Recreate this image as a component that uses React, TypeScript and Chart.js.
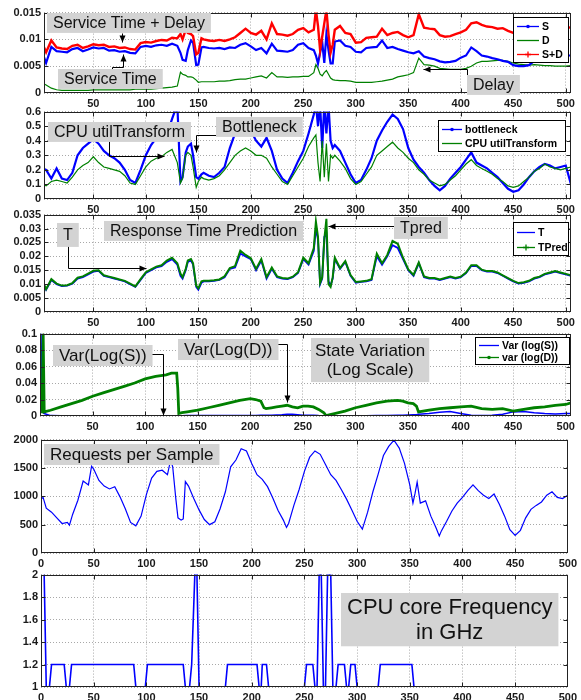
import React, { useEffect, useRef } from 'react';
import { Chart, registerables } from 'chart.js';

Chart.register(...registerables);

// ---------- DATA ----------
// sample index for panels 1-3
const X1 = [
  2, 5, 10, 15, 20, 25, 30, 35, 40, 45,
  50, 55, 60, 65, 70, 75, 80, 85, 90, 95,
  100, 105, 110, 115, 120, 125, 130, 133, 135, 138,
  140, 143, 145, 148, 150, 153, 155, 160, 165, 170,
  175, 180, 185, 190, 195, 200, 205, 210, 215, 220,
  225, 230, 235, 240, 245, 250, 255, 260, 262, 264,
  266, 268, 270, 272, 274, 276, 278, 280, 285, 290,
  295, 300, 305, 310, 315, 320, 325, 330, 335, 340,
  345, 350, 355, 360, 365, 370, 375, 380, 385, 390,
  395, 400, 405, 410, 415, 420, 425, 430, 435, 440,
  445, 450, 455, 460, 465, 470, 475, 480, 485, 490,
  495, 500, 505,
];

// Panel 1: service time S, delay D, S+D (seconds)
const S = [
  7.2e-3, 5.6e-3, 8.6e-3, 7.8e-3, 7.7e-3, 7.6e-3, 8.2e-3, 8.4e-3, 7.8e-3, 8.1e-3,
  8.5e-3, 8.3e-3, 8.4e-3, 7.9e-3, 8.0e-3, 7.7e-3, 7.8e-3, 7.5e-3, 7.4e-3, 8.6e-3,
  8.8e-3, 8.6e-3, 8.9e-3, 9.0e-3, 8.8e-3, 9.2e-3, 8.8e-3, 7.5e-3, 6.2e-3, 6.0e-3,
  8.0e-3, 9.8e-3, 9.4e-3, 5.2e-3, 5.3e-3, 8.5e-3, 8.6e-3, 8.4e-3, 8.3e-3, 8.4e-3,
  8.2e-3, 8.5e-3, 8.4e-3, 9.0e-3, 9.3e-3, 8.7e-3, 8.0e-3, 8.4e-3, 7.4e-3, 9.2e-3,
  7.9e-3, 7.8e-3, 7.7e-3, 8.0e-3, 9.0e-3, 9.3e-3, 8.4e-3, 8.0e-3, 7.0e-3, 5.5e-3,
  7.5e-3, 9.5e-3, 5.6e-3, 11.0e-3, 8.0e-3, 5.5e-3, 5.5e-3, 9.6e-3, 9.8e-3, 8.8e-3,
  8.6e-3, 7.7e-3, 7.6e-3, 8.4e-3, 8.5e-3, 8.6e-3, 9.8e-3, 8.4e-3, 8.6e-3, 8.2e-3,
  7.9e-3, 7.6e-3, 7.4e-3, 7.8e-3, 6.8e-3, 6.5e-3, 6.3e-3, 5.9e-3, 5.7e-3, 5.8e-3,
  6.0e-3, 6.6e-3, 7.0e-3, 8.5e-3, 7.8e-3, 7.0e-3, 6.8e-3, 6.5e-3, 6.3e-3, 6.0e-3,
  5.8e-3, 5.2e-3, 5.0e-3, 5.0e-3, 5.2e-3, 6.0e-3, 6.2e-3, 6.4e-3, 6.5e-3, 6.6e-3,
  6.8e-3, 7.0e-3, 7.0e-3,
];
const D = [
  1.8e-3, 1.5e-3, 0.9e-3, 0.6e-3, 0.5e-3, 0.5e-3, 0.5e-3, 0.5e-3, 0.5e-3, 0.5e-3,
  0.6e-3, 0.6e-3, 0.6e-3, 0.6e-3, 0.6e-3, 0.6e-3, 0.6e-3, 0.6e-3, 0.7e-3, 0.7e-3,
  0.7e-3, 0.7e-3, 0.8e-3, 0.9e-3, 1.0e-3, 1.1e-3, 1.3e-3, 3.9e-3, 3.5e-3, 3.3e-3,
  3.0e-3, 3.0e-3, 2.9e-3, 2.4e-3, 2.0e-3, 2.1e-3, 2.1e-3, 2.1e-3, 2.1e-3, 2.2e-3,
  2.2e-3, 2.3e-3, 2.5e-3, 2.6e-3, 2.6e-3, 2.8e-3, 3.0e-3, 3.2e-3, 2.8e-3, 3.8e-3,
  3.0e-3, 3.0e-3, 2.9e-3, 3.0e-3, 3.0e-3, 3.1e-3, 3.1e-3, 3.8e-3, 5.3e-3, 4.6e-3,
  3.5e-3, 3.2e-3, 3.8e-3, 4.2e-3, 3.5e-3, 2.8e-3, 2.5e-3, 2.4e-3, 2.3e-3, 2.3e-3,
  2.2e-3, 2.0e-3, 2.0e-3, 2.0e-3, 2.0e-3, 2.1e-3, 2.2e-3, 2.4e-3, 2.6e-3, 3.0e-3,
  3.2e-3, 3.4e-3, 3.8e-3, 6.5e-3, 5.3e-3, 5.2e-3, 5.0e-3, 4.6e-3, 4.5e-3, 4.4e-3,
  4.4e-3, 4.4e-3, 4.6e-3, 5.0e-3, 5.6e-3, 5.9e-3, 5.9e-3, 6.0e-3, 6.1e-3, 6.1e-3,
  5.9e-3, 5.6e-3, 5.4e-3, 5.3e-3, 5.2e-3, 5.3e-3, 5.2e-3, 5.1e-3, 5.1e-3, 5.0e-3,
  5.0e-3, 5.0e-3, 5.1e-3,
];
const SD = [
  9.0e-3, 7.6e-3, 9.8e-3, 8.5e-3, 8.3e-3, 8.2e-3, 8.8e-3, 9.0e-3, 8.4e-3, 8.7e-3,
  9.1e-3, 8.9e-3, 9.0e-3, 8.6e-3, 8.7e-3, 8.4e-3, 8.5e-3, 8.2e-3, 8.1e-3, 9.3e-3,
  9.5e-3, 9.4e-3, 9.7e-3, 9.9e-3, 9.8e-3, 10.3e-3, 10.2e-3, 11.0e-3, 10.0e-3, 11.8e-3,
  11.2e-3, 11.0e-3, 10.6e-3, 7.2e-3, 7.5e-3, 10.2e-3, 10.0e-3, 9.8e-3, 9.7e-3, 9.9e-3,
  9.7e-3, 10.0e-3, 10.4e-3, 11.2e-3, 12.0e-3, 11.2e-3, 10.9e-3, 11.6e-3, 10.0e-3, 13.0e-3,
  11.0e-3, 10.9e-3, 10.7e-3, 11.0e-3, 11.8e-3, 12.1e-3, 11.3e-3, 11.8e-3, 15.5e-3, 12.5e-3,
  8.0e-3, 10.5e-3, 13.0e-3, 15.5e-3, 11.0e-3, 7.5e-3, 9.0e-3, 11.8e-3, 12.5e-3, 11.2e-3,
  11.0e-3, 9.4e-3, 9.5e-3, 10.3e-3, 10.4e-3, 10.5e-3, 12.0e-3, 10.8e-3, 11.2e-3, 11.4e-3,
  10.8e-3, 10.4e-3, 10.8e-3, 14.7e-3, 12.2e-3, 12.0e-3, 11.9e-3, 10.8e-3, 10.5e-3, 10.6e-3,
  11.0e-3, 11.3e-3, 11.8e-3, 13.0e-3, 13.2e-3, 12.7e-3, 12.4e-3, 12.3e-3, 12.0e-3, 12.1e-3,
  11.6e-3, 11.2e-3, 10.9e-3, 10.8e-3, 10.8e-3, 11.0e-3, 11.4e-3, 11.6e-3, 11.4e-3, 11.5e-3,
  11.8e-3, 12.0e-3, 12.3e-3,
];

// Panel 2: bottleneck and CPU utilTransform
const BOTTLENECK = [
  0.21, 0.20, 0.14, 0.21, 0.14, 0.13, 0.18, 0.30, 0.35, 0.38,
  0.41, 0.38, 0.33, 0.30, 0.28, 0.25, 0.20, 0.13, 0.11, 0.20,
  0.30, 0.37, 0.42, 0.42, 0.44, 0.55, 0.65, 0.12, 0.15, 0.32,
  0.36, 0.38, 0.30, 0.15, 0.14, 0.17, 0.18, 0.16, 0.15, 0.18,
  0.22, 0.35, 0.45, 0.48, 0.49, 0.47, 0.40, 0.36, 0.42, 0.33,
  0.20, 0.14, 0.11, 0.18, 0.26, 0.33, 0.45, 0.58, 0.65, 0.50,
  0.65, 0.35, 0.65, 0.45, 0.65, 0.40, 0.35, 0.37, 0.33, 0.25,
  0.17, 0.11, 0.13, 0.20, 0.28, 0.40, 0.47, 0.53, 0.58, 0.55,
  0.48, 0.35, 0.27, 0.22, 0.18, 0.13, 0.09, 0.06, 0.09, 0.14,
  0.18, 0.22, 0.27, 0.32, 0.25, 0.23, 0.21, 0.18, 0.15, 0.11,
  0.07, 0.05, 0.06, 0.10, 0.15, 0.19, 0.22, 0.24, 0.23, 0.21,
  0.22, 0.23, 0.10,
];
const CPU_UTIL = [
  0.10, 0.09, 0.12, 0.13, 0.12, 0.11, 0.15, 0.20, 0.23, 0.25,
  0.29, 0.25, 0.22, 0.21, 0.20, 0.19, 0.16, 0.11, 0.10, 0.16,
  0.22, 0.26, 0.28, 0.29, 0.32, 0.34, 0.25, 0.11, 0.14, 0.30,
  0.32, 0.30, 0.22, 0.08, 0.12, 0.15, 0.14, 0.13, 0.14, 0.16,
  0.20, 0.25, 0.30, 0.33, 0.35, 0.33, 0.30, 0.30, 0.28, 0.22,
  0.17, 0.12, 0.10, 0.16, 0.22, 0.28, 0.36, 0.42, 0.44, 0.25,
  0.12, 0.40, 0.15, 0.38, 0.12, 0.30, 0.28, 0.30, 0.26, 0.21,
  0.14, 0.10, 0.12, 0.17, 0.22, 0.30, 0.33, 0.36, 0.39, 0.35,
  0.32, 0.28, 0.25, 0.20, 0.17, 0.13, 0.11, 0.09, 0.10, 0.13,
  0.16, 0.20, 0.24, 0.27, 0.23, 0.21, 0.19, 0.17, 0.14, 0.12,
  0.09, 0.08, 0.09, 0.12, 0.15, 0.19, 0.21, 0.24, 0.22, 0.21,
  0.20, 0.21, 0.22,
];

// Panel 3: response time T and its prediction TPred
const T = [
  10.5e-3, 8.0e-3, 11.5e-3, 10.0e-3, 9.3e-3, 9.5e-3, 10.2e-3, 12.0e-3, 12.5e-3, 13.5e-3,
  14.5e-3, 14.8e-3, 13.0e-3, 12.5e-3, 12.0e-3, 11.5e-3, 11.0e-3, 10.0e-3, 9.0e-3, 11.5e-3,
  14.0e-3, 15.0e-3, 16.0e-3, 16.5e-3, 18.0e-3, 19.0e-3, 17.0e-3, 13.0e-3, 12.0e-3, 15.0e-3,
  18.0e-3, 18.5e-3, 17.0e-3, 9.0e-3, 8.0e-3, 10.5e-3, 11.0e-3, 11.0e-3, 11.2e-3, 11.5e-3,
  12.5e-3, 15.5e-3, 16.0e-3, 21.0e-3, 20.0e-3, 19.0e-3, 15.0e-3, 18.5e-3, 12.0e-3, 15.5e-3,
  12.5e-3, 12.0e-3, 11.8e-3, 12.5e-3, 14.0e-3, 19.0e-3, 17.0e-3, 22.0e-3, 30.0e-3, 26.0e-3,
  10.0e-3, 12.0e-3, 27.0e-3, 28.0e-3, 11.0e-3, 9.5e-3, 12.0e-3, 19.0e-3, 15.5e-3, 18.0e-3,
  13.0e-3, 10.5e-3, 10.8e-3, 11.0e-3, 11.5e-3, 20.0e-3, 17.0e-3, 20.0e-3, 24.0e-3, 23.0e-3,
  19.0e-3, 15.0e-3, 13.0e-3, 17.5e-3, 12.5e-3, 12.0e-3, 12.0e-3, 11.5e-3, 12.0e-3, 12.5e-3,
  12.0e-3, 12.5e-3, 14.0e-3, 16.5e-3, 16.5e-3, 15.0e-3, 14.5e-3, 14.5e-3, 14.0e-3, 13.0e-3,
  12.0e-3, 11.0e-3, 10.2e-3, 10.5e-3, 11.0e-3, 12.0e-3, 12.5e-3, 13.5e-3, 14.0e-3, 14.5e-3,
  14.0e-3, 13.5e-3, 13.0e-3,
];
const TPRED = [
  10.8e-3, 8.2e-3, 11.8e-3, 10.2e-3, 9.5e-3, 9.6e-3, 10.4e-3, 12.3e-3, 12.8e-3, 13.8e-3,
  14.8e-3, 15.0e-3, 13.2e-3, 12.7e-3, 12.2e-3, 11.7e-3, 11.2e-3, 10.2e-3, 9.2e-3, 11.8e-3,
  14.3e-3, 15.3e-3, 16.3e-3, 16.8e-3, 18.5e-3, 19.5e-3, 17.5e-3, 13.8e-3, 12.5e-3, 15.5e-3,
  18.5e-3, 19.0e-3, 17.5e-3, 9.5e-3, 8.5e-3, 11.0e-3, 11.2e-3, 11.2e-3, 11.4e-3, 11.7e-3,
  12.8e-3, 15.8e-3, 16.5e-3, 22.0e-3, 20.5e-3, 19.3e-3, 15.5e-3, 19.0e-3, 12.5e-3, 16.0e-3,
  12.8e-3, 12.2e-3, 12.0e-3, 12.7e-3, 14.3e-3, 19.5e-3, 17.5e-3, 23.0e-3, 32.5e-3, 27.0e-3,
  10.5e-3, 12.5e-3, 26.0e-3, 33.5e-3, 10.0e-3, 9.0e-3, 12.5e-3, 19.5e-3, 15.8e-3, 18.3e-3,
  13.3e-3, 10.8e-3, 11.0e-3, 11.2e-3, 11.8e-3, 21.0e-3, 17.5e-3, 20.5e-3, 25.5e-3, 24.5e-3,
  19.5e-3, 15.3e-3, 13.3e-3, 17.8e-3, 12.8e-3, 12.2e-3, 12.2e-3, 11.7e-3, 12.2e-3, 12.7e-3,
  12.2e-3, 12.7e-3, 14.2e-3, 16.8e-3, 16.8e-3, 15.2e-3, 14.7e-3, 14.7e-3, 14.2e-3, 13.2e-3,
  12.2e-3, 11.2e-3, 10.4e-3, 10.7e-3, 11.2e-3, 12.2e-3, 12.7e-3, 13.7e-3, 14.2e-3, 14.7e-3,
  14.2e-3, 13.7e-3, 13.2e-3,
];

// Panel 4: state variation
const X4 = [
  1, 2, 3, 4, 10, 20, 30, 40, 50, 60,
  70, 80, 90, 100, 110, 120, 125, 130, 131, 132,
  135, 140, 150, 160, 170, 180, 190, 200, 205, 210,
  213, 215, 220, 225, 230, 235, 240, 245, 250, 255,
  260, 265, 270, 272, 280, 290, 300, 310, 320, 330,
  340, 345, 350, 355, 358, 360, 370, 380, 390, 400,
  410, 420, 430, 440, 450, 460, 470, 480, 490, 500,
  505,
];
const VAR_LOG_S = [
  0.1, 0.005, 0.004, 0.003, 0.0005, 0.0002, 0.0002, 0.0002, 0.0002, 0.0002,
  0.0002, 0.0002, 0.0002, 0.0002, 0.0002, 0.0002, 0.0002, 0.0002, 0.0002, 0.0002,
  0.0003, 0.0005, 0.0005, 0.0005, 0.0005, 0.0005, 0.0005, 0.0005, 0.0005, 0.0008,
  0.001, 0.001, 0.001, 0.0012, 0.0015, 0.002, 0.002, 0.0015, 0.001, 0.001,
  0.001, 0.0005, 0.0003, 0.0002, 0.0002, 0.0002, 0.0003, 0.0003, 0.0005, 0.0005,
  0.001, 0.001, 0.0012, 0.0015, 0.0015, 0.002, 0.003, 0.0045, 0.0055, 0.003,
  0.001, 0.0005, 0.0008, 0.002, 0.005, 0.0055, 0.004, 0.003, 0.0025, 0.003,
  0.003,
];
const VAR_LOG_D = [
  0.005, 0.005, 0.1, 0.005, 0.007, 0.011, 0.015, 0.019, 0.024, 0.028,
  0.032, 0.036, 0.040, 0.045, 0.048, 0.050, 0.052, 0.052, 0.034, 0.003,
  0.004, 0.005, 0.007, 0.010, 0.013, 0.016, 0.019, 0.021, 0.020, 0.018,
  0.010, 0.009, 0.010, 0.011, 0.012, 0.013, 0.011, 0.010, 0.012, 0.012,
  0.011, 0.008, 0.004, 0.0005, 0.003, 0.006, 0.010, 0.013, 0.016, 0.018,
  0.019, 0.018, 0.016, 0.015, 0.012, 0.005, 0.007, 0.009, 0.010, 0.011,
  0.012, 0.009, 0.008, 0.009, 0.006, 0.008, 0.010, 0.011, 0.013, 0.014,
  0.016,
];

// Panel 5: requests per sample
const X5 = [
  0, 2, 5, 10, 15, 20, 25, 27, 30, 35,
  40, 45, 48, 50, 55, 60, 65, 70, 75, 80,
  85, 90, 95, 100, 105, 110, 115, 120, 123, 125,
  128, 130, 133, 135, 137, 140, 145, 150, 155, 160,
  165, 170, 175, 180, 185, 190, 195, 200, 205, 210,
  215, 220, 225, 230, 233, 235, 240, 245, 250, 255,
  260, 265, 270, 275, 280, 285, 290, 295, 300, 305,
  310, 315, 320, 325, 330, 335, 340, 345, 350, 353,
  355, 357, 360, 365, 370, 375, 378, 380, 385, 390,
  395, 400, 405, 410, 415, 420, 425, 430, 435, 440,
  445, 450, 455, 460, 465, 470, 475, 480, 485, 490,
  495, 500,
];
const REQUESTS = [
  950, 980, 790, 720, 620, 520, 540, 490, 680, 930,
  1270, 1200, 1530, 1480, 1280, 1180, 1130, 1170, 990, 780,
  540, 480, 650, 1030, 1320, 1440, 1460, 1380, 1640, 1520,
  950, 620, 580, 600, 1260, 1180, 960, 760, 590, 500,
  550, 780, 1080, 1520, 1640, 1840, 1800, 1580, 1380, 1300,
  1170, 970, 750, 580, 450, 520, 840, 1120, 1440, 1690,
  1800, 1740, 1560, 1380, 1280, 1120, 950, 760, 560, 420,
  720, 1080, 1390, 1720, 1880, 1990, 1850, 1580, 1200, 880,
  1050, 1250, 880, 920, 650, 440, 300, 390, 560, 740,
  880, 980, 1100, 1200, 1100, 1020, 960, 1040, 860, 650,
  410, 310, 400, 620, 770, 840, 900, 1020, 1080, 980,
  960, 1020,
];

// Panel 6: CPU core frequency (GHz), change points
const X6 = [
  3, 5, 8, 10, 22, 24, 27, 29, 88, 90,
  99, 101, 135, 137, 141, 143, 146, 148, 150, 175,
  177, 205, 207, 209, 210, 214, 216, 250, 252, 258,
  260, 262, 264, 266, 268, 270, 272, 275, 277, 280,
  282, 288, 290, 292, 294, 298, 300, 320, 322, 352,
  354, 500,
];
const FREQ = [
  2, 1, 1, 1.2, 1.2, 1, 1, 1.2, 1.2, 1,
  1, 1.2, 1.2, 1, 1, 1.2, 2, 2, 1, 1,
  1.2, 1.2, 1, 1, 1.2, 1.2, 1, 1, 1.2, 1.2,
  1, 1, 2, 2, 1, 1, 2, 2, 1, 1,
  1.2, 1.2, 1, 1, 1.2, 1.2, 1, 1, 1.2, 1.2,
  1, 1,
];

// tick values / labels
const XTICKS_A = [50, 100, 150, 200, 250, 300, 350, 400, 450, 500];
const XTICKS_B = [0, 50, 100, 150, 200, 250, 300, 350, 400, 450, 500];
const Y1_TICKS = [0, 0.005, 0.01, 0.015];
const Y1_LABELS = ['0', '0.005', '0.01', '0.015'];
const Y2_TICKS = [0, 0.1, 0.2, 0.3, 0.4, 0.5, 0.6];
const Y2_LABELS = ['0', '0.1', '0.2', '0.3', '0.4', '0.5', '0.6'];
const Y3_TICKS = [0, 0.005, 0.01, 0.015, 0.02, 0.025, 0.03, 0.035];
const Y3_LABELS = ['0', '0.005', '0.01', '0.015', '0.02', '0.025', '0.03', '0.035'];
const Y4_TICKS = [0, 0.02, 0.04, 0.06, 0.08, 0.1];
const Y4_LABELS = ['0', '0.02', '0.04', '0.06', '0.08', '0.1'];
const Y5_TICKS = [0, 500, 1000, 1500, 2000];
const Y5_LABELS = ['0', '500', '1000', '1500', '2000'];
const Y6_TICKS = [1, 1.2, 1.4, 1.6, 1.8, 2];
const Y6_LABELS = ['1', '1.2', '1.4', '1.6', '1.8', '2'];

// ---------- STYLE / LAYOUT ----------
const FONT = '"Liberation Sans", Arial, Helvetica, sans-serif';
const BLUE = '#0000ff';
const GREEN = '#008000';
const RED = '#ff0000';
const PADT = 8;
const XAXIS_H = 17;
const W = 581;

type Series = { x: number[]; y: number[]; color: string; width: number; order: number };
type Box = { x: number; y: number; lines: string[]; size: number; padX?: number; padY?: number };
type LegendItem = { label: string; color: string; marker?: 'dot' | 'plus' };
type Legend = { w: number; top: number; inset: number; rowH: number; lineLen: number; items: LegendItem[] };
type Panel = {
  top: number; bottom: number; left: number; right: number;
  xmin: number; xmax: number; xticks: number[];
  ymin: number; ymax: number; yticks: number[]; ylabels: string[];
  series: Series[]; boxes: Box[]; arrows: number[][][]; legend?: Legend;
};

const PANELS: Panel[] = [
  {
    top: 11, bottom: 93, left: 44, right: 571, xmin: 3, xmax: 505, xticks: XTICKS_A,
    ymin: 0, ymax: 0.015, yticks: Y1_TICKS, ylabels: Y1_LABELS,
    series: [
      { x: X1, y: S, color: BLUE, width: 2.2, order: 1 },
      { x: X1, y: D, color: GREEN, width: 1.2, order: 2 },
      { x: X1, y: SD, color: RED, width: 2.4, order: 0 },
    ],
    boxes: [
      { x: 6, y: 0.015, lines: ['Service Time + Delay'], size: 16 },
      { x: 16, y: 0.0044, lines: ['Service Time'], size: 16 },
      { x: 406, y: 0.0034, lines: ['Delay'], size: 16 },
    ],
    arrows: [
      [[77, 0.0112], [77, 0.0096]],
      [[68, 0.0044], [68, 0.0048], [78, 0.0048], [78, 0.0073]],
      [[406, 0.0034], [406, 0.0044], [364, 0.0044]],
    ],
    legend: {
      w: 56, top: 4, inset: 2, rowH: 14, lineLen: 22,
      items: [
        { label: 'S', color: BLUE, marker: 'dot' },
        { label: 'D', color: GREEN },
        { label: 'S+D', color: RED, marker: 'plus' },
      ],
    },
  },
  {
    top: 110, bottom: 199, left: 44, right: 571, xmin: 3, xmax: 505, xticks: XTICKS_A,
    ymin: 0, ymax: 0.6, yticks: Y2_TICKS, ylabels: Y2_LABELS,
    series: [
      { x: X1, y: BOTTLENECK, color: BLUE, width: 2.2, order: 1 },
      { x: X1, y: CPU_UTIL, color: GREEN, width: 1.2, order: 0 },
    ],
    boxes: [
      { x: 7, y: 0.53, lines: ['CPU utilTransform'], size: 16 },
      { x: 167, y: 0.56, lines: ['Bottleneck'], size: 16 },
    ],
    arrows: [
      [[65, 0.4], [65, 0.295], [117, 0.295]],
      [[168, 0.44], [148, 0.44], [148, 0.32]],
    ],
    legend: {
      w: 128, top: 8, inset: 5, rowH: 14, lineLen: 20,
      items: [
        { label: 'bottleneck', color: BLUE, marker: 'dot' },
        { label: 'CPU utilTransform', color: GREEN },
      ],
    },
  },
  {
    top: 213, bottom: 312, left: 44, right: 571, xmin: 3, xmax: 505, xticks: XTICKS_A,
    ymin: 0, ymax: 0.035, yticks: Y3_TICKS, ylabels: Y3_LABELS,
    series: [
      { x: X1, y: T, color: BLUE, width: 1.8, order: 1 },
      { x: X1, y: TPRED, color: GREEN, width: 2.0, order: 0 },
    ],
    boxes: [
      { x: 60, y: 0.0328, lines: ['Response Time Prediction'], size: 16 },
      { x: 15, y: 0.032, lines: ['T'], size: 16, padY: 3 },
      { x: 336, y: 0.034, lines: ['Tpred'], size: 16, padY: 2 },
    ],
    arrows: [
      [[26, 0.025], [26, 0.0158], [100, 0.0158]],
      [[336, 0.031], [274, 0.031]],
    ],
    legend: {
      w: 56, top: 7, inset: 2, rowH: 15, lineLen: 18,
      items: [
        { label: 'T', color: BLUE },
        { label: 'TPred', color: GREEN, marker: 'plus' },
      ],
    },
  },
  {
    top: 332, bottom: 416, left: 40, right: 571, xmin: 0, xmax: 505, xticks: XTICKS_A,
    ymin: 0, ymax: 0.1, yticks: Y4_TICKS, ylabels: Y4_LABELS,
    series: [
      { x: X4, y: VAR_LOG_S, color: BLUE, width: 1.5, order: 1 },
      { x: X4, y: VAR_LOG_D, color: GREEN, width: 2.8, order: 0 },
    ],
    boxes: [
      { x: 12, y: 0.086, lines: ['Var(Log(S))'], size: 17 },
      { x: 131, y: 0.093, lines: ['Var(Log(D))'], size: 17 },
      { x: 258, y: 0.095, lines: ['State Variation', '(Log Scale)'], size: 17, padX: 4, padY: 3 },
    ],
    arrows: [
      [[100, 0.075], [117, 0.075], [117, 0.001]],
      [[218, 0.087], [235, 0.087], [235, 0.017]],
    ],
    legend: {
      w: 95, top: 3, inset: 1, rowH: 12, lineLen: 20,
      items: [
        { label: 'Var (log(S))', color: BLUE },
        { label: 'var (log(D))', color: GREEN, marker: 'dot' },
      ],
    },
  },
  {
    top: 438, bottom: 553, left: 41, right: 570, xmin: 0, xmax: 500, xticks: XTICKS_B,
    ymin: 0, ymax: 2000, yticks: Y5_TICKS, ylabels: Y5_LABELS,
    series: [{ x: X5, y: REQUESTS, color: BLUE, width: 1.2, order: 0 }],
    boxes: [{ x: 3, y: 1920, lines: ['Requests per Sample'], size: 17 }],
    arrows: [],
  },
  {
    top: 573, bottom: 687, left: 41, right: 570, xmin: 0, xmax: 500, xticks: XTICKS_B,
    ymin: 1, ymax: 2, yticks: Y6_TICKS, ylabels: Y6_LABELS,
    series: [{ x: X6, y: FREQ, color: BLUE, width: 1.6, order: 0 }],
    boxes: [{ x: 285, y: 1.835, lines: ['CPU core Frequency', 'in GHz'], size: 22, padX: 6, padY: 2 }],
    arrows: [],
  },
];

// ---------- DRAWING ----------
function drawDecor(chart: any, p: Panel) {
  const ctx: CanvasRenderingContext2D = chart.ctx;
  const a = chart.chartArea;
  const xs = chart.scales.x;
  const ys = chart.scales.y;
  const px = (v: number) => xs.getPixelForValue(v);
  const py = (v: number) => ys.getPixelForValue(v);
  ctx.save();

  // frame + inward ticks
  const L = Math.round(a.left) + 0.5;
  const R = Math.round(a.right) - 0.5;
  const Tp = Math.round(a.top) + 0.5;
  const B = Math.round(a.bottom) - 0.5;
  ctx.strokeStyle = '#222';
  ctx.lineWidth = 1;
  ctx.setLineDash([]);
  ctx.strokeRect(L, Tp, R - L, B - Tp);
  ctx.beginPath();
  for (const v of p.xticks) {
    const x = Math.round(px(v)) + 0.5;
    if (x <= L + 1 || x >= R - 1) continue;
    ctx.moveTo(x, B); ctx.lineTo(x, B - 4);
    ctx.moveTo(x, Tp); ctx.lineTo(x, Tp + 4);
  }
  for (const v of p.yticks) {
    const y = Math.round(py(v)) + 0.5;
    if (y <= Tp + 1 || y >= B - 1) continue;
    ctx.moveTo(L, y); ctx.lineTo(L + 4, y);
    ctx.moveTo(R, y); ctx.lineTo(R - 4, y);
  }
  ctx.stroke();

  // arrows
  ctx.strokeStyle = '#000';
  ctx.fillStyle = '#000';
  for (const ar of p.arrows) {
    const pts = ar.map(([x, y]) => [Math.round(px(x)) + 0.5, Math.round(py(y)) + 0.5]);
    ctx.beginPath();
    pts.forEach(([x, y], i) => (i ? ctx.lineTo(x, y) : ctx.moveTo(x, y)));
    ctx.stroke();
    const [x1, y1] = pts[pts.length - 2];
    const [x2, y2] = pts[pts.length - 1];
    const ang = Math.atan2(y2 - y1, x2 - x1);
    const len = 7, hw = 3;
    ctx.beginPath();
    ctx.moveTo(x2, y2);
    ctx.lineTo(x2 - len * Math.cos(ang) + hw * Math.sin(ang), y2 - len * Math.sin(ang) - hw * Math.cos(ang));
    ctx.lineTo(x2 - len * Math.cos(ang) - hw * Math.sin(ang), y2 - len * Math.sin(ang) + hw * Math.cos(ang));
    ctx.closePath();
    ctx.fill();
  }

  // annotation boxes
  for (const b of p.boxes) {
    const padX = b.padX ?? 6;
    const padY = b.padY ?? 1;
    ctx.font = `${b.size}px ${FONT}`;
    const tw = Math.max(...b.lines.map((l) => ctx.measureText(l).width));
    const lh = b.size * 1.12;
    const w = tw + 2 * padX;
    const h = b.lines.length * lh + 2 * padY;
    const x0 = Math.round(px(b.x));
    const y0 = Math.round(py(b.y));
    ctx.fillStyle = '#d3d3d3';
    ctx.fillRect(x0, y0, w, h);
    ctx.fillStyle = '#111';
    ctx.textAlign = 'center';
    ctx.textBaseline = 'middle';
    b.lines.forEach((l, i) => ctx.fillText(l, x0 + w / 2, y0 + padY + lh * (i + 0.5) + 1));
  }

  // legend
  const lg = p.legend;
  if (lg) {
    const x1 = Math.round(a.right - lg.inset);
    const x0 = x1 - lg.w;
    const y0 = Math.round(a.top + lg.top);
    const h = lg.items.length * lg.rowH + 4;
    ctx.fillStyle = '#fff';
    ctx.fillRect(x0, y0, lg.w, h);
    ctx.strokeStyle = '#000';
    ctx.lineWidth = 1;
    ctx.strokeRect(x0 + 0.5, y0 + 0.5, lg.w - 1, h - 1);
    ctx.font = `bold 10.5px ${FONT}`;
    ctx.textAlign = 'left';
    ctx.textBaseline = 'middle';
    lg.items.forEach((it, i) => {
      const cy = Math.round(y0 + 2 + lg.rowH * (i + 0.5)) + 0.5;
      const lx0 = x0 + 4;
      const lx1 = lx0 + lg.lineLen;
      ctx.strokeStyle = it.color;
      ctx.lineWidth = 1.3;
      ctx.beginPath();
      ctx.moveTo(lx0, cy); ctx.lineTo(lx1, cy);
      ctx.stroke();
      const mx = (lx0 + lx1) / 2;
      if (it.marker === 'dot') {
        ctx.fillStyle = it.color;
        ctx.beginPath(); ctx.arc(mx, cy, 1.8, 0, Math.PI * 2); ctx.fill();
      } else if (it.marker === 'plus') {
        ctx.beginPath();
        ctx.moveTo(mx - 3, cy); ctx.lineTo(mx + 3, cy);
        ctx.moveTo(mx, cy - 3); ctx.lineTo(mx, cy + 3);
        ctx.stroke();
      }
      ctx.fillStyle = '#000';
      ctx.fillText(it.label, lx1 + 3, cy + 0.5);
    });
  }
  ctx.restore();
}

function makeConfig(p: Panel): any {
  const tickFont = { family: FONT, size: 11, weight: 'bold' as const };
  return {
    type: 'line',
    data: {
      datasets: p.series.map((s) => ({
        data: s.x.map((x, i) => ({ x, y: s.y[i] })),
        borderColor: s.color,
        backgroundColor: s.color,
        borderWidth: s.width,
        pointRadius: 0,
        pointHoverRadius: 0,
        fill: false,
        tension: 0,
        order: s.order,
      })),
    },
    options: {
      animation: false,
      responsive: false,
      maintainAspectRatio: false,
      events: [],
      layout: { padding: { top: PADT, left: 0, right: W - p.right, bottom: 0 } },
      plugins: { legend: { display: false }, tooltip: { enabled: false }, title: { display: false } },
      scales: {
        x: {
          type: 'linear',
          min: p.xmin,
          max: p.xmax,
          afterBuildTicks: (axis: any) => { axis.ticks = p.xticks.map((v) => ({ value: v })); },
          afterFit: (axis: any) => { axis.height = XAXIS_H; },
          ticks: {
            font: tickFont, color: '#1a1a1a', padding: 4, maxRotation: 0, minRotation: 0,
            autoSkip: false, callback: (v: number) => String(v),
          },
          grid: { color: '#a8a8a8', lineWidth: 1, drawTicks: false },
          border: { display: false, dash: [1, 2] },
        },
        y: {
          type: 'linear',
          min: p.ymin,
          max: p.ymax,
          afterBuildTicks: (axis: any) => { axis.ticks = p.yticks.map((v) => ({ value: v })); },
          afterFit: (axis: any) => { axis.width = p.left; },
          ticks: {
            font: tickFont, color: '#1a1a1a', padding: 3, autoSkip: false,
            callback: (_v: number, i: number) => p.ylabels[i],
          },
          grid: { color: '#a8a8a8', lineWidth: 1, drawTicks: false },
          border: { display: false, dash: [1, 2] },
        },
      },
    },
    plugins: [{ id: 'decor', afterDatasetsDraw: (chart: any) => drawDecor(chart, p) }],
  };
}

function PanelChart({ p }: { p: Panel }) {
  const ref = useRef<HTMLCanvasElement | null>(null);
  useEffect(() => {
    if (!ref.current) return;
    const chart = new Chart(ref.current, makeConfig(p));
    return () => chart.destroy();
  }, [p]);
  const h = p.bottom - p.top + PADT + XAXIS_H;
  return (
    <canvas
      ref={ref}
      width={W}
      height={h}
      style={{ position: 'absolute', left: 0, top: p.top - PADT, width: W, height: h }}
    />
  );
}

export default function App() {
  return (
    <div style={{ position: 'absolute', left: 0, top: 0, width: W, height: 700, background: '#fff', overflow: 'hidden' }}>
      {PANELS.map((p, i) => (
        <PanelChart key={i} p={p} />
      ))}
    </div>
  );
}
